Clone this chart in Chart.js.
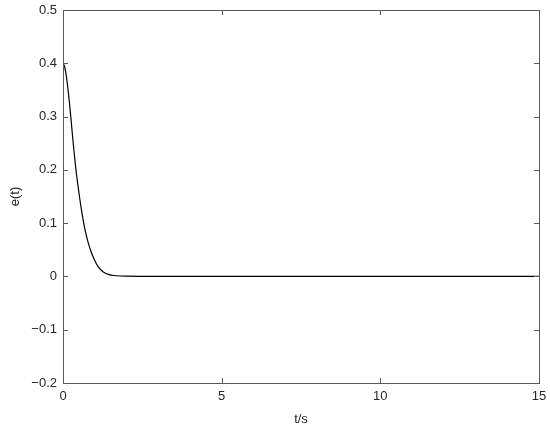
<!DOCTYPE html>
<html>
<head>
<meta charset="utf-8">
<script src="https://cdn.jsdelivr.net/npm/chart.js@4.4.0/dist/chart.umd.min.js"></script>
<style>
  html, body { margin: 0; padding: 0; background: #fff; }
  #wrap { width: 550px; height: 431px; }
</style>
</head>
<body>
<div id="wrap"><canvas id="c" width="550" height="431"></canvas></div>
<script>
// values
var tValues = [0, 0.05, 0.1, 0.15, 0.2, 0.25, 0.3, 0.4, 0.5, 0.6, 0.7, 0.8, 0.9, 1.0, 1.1, 1.2, 1.32, 1.45, 1.6, 1.8, 2.0, 2.5, 3, 4, 6, 10, 15];
var eValues = [0.400, 0.394, 0.378, 0.355, 0.328, 0.297, 0.264, 0.205, 0.158, 0.118, 0.086, 0.062, 0.044, 0.030, 0.019, 0.012, 0.0063, 0.0035, 0.0018, 0.0008, 0.0004, 0.0001, 0, 0, 0, 0, 0];
var xTicks = [0, 5, 10, 15];
var yTicks = [-0.2, -0.1, 0, 0.1, 0.2, 0.3, 0.4, 0.5];

var axisColor = '#5a5a5a';
var font = { family: 'Liberation Sans, Arial, sans-serif', size: 13 };

function fmt(v) {
  if (Math.abs(v) < 1e-9) return '0';
  var s = (Math.round(v * 10) / 10).toString();
  return s.replace('-', '\u2212');
}

// MATLAB style box with inward ticks on all sides
var boxPlugin = {
  id: 'box',
  afterDraw: function (chart) {
    var a = chart.chartArea, ctx = chart.ctx;
    var xs = chart.scales.x, ys = chart.scales.y;
    var len = 5;
    ctx.save();
    ctx.strokeStyle = axisColor;
    ctx.lineWidth = 1;
    ctx.strokeRect(Math.round(a.left) + 0.5, Math.round(a.top) + 0.5,
      Math.round(a.right - a.left), Math.round(a.bottom - a.top));
    ctx.beginPath();
    xTicks.forEach(function (v) {
      var px = Math.round(xs.getPixelForValue(v)) + 0.5;
      ctx.moveTo(px, a.bottom); ctx.lineTo(px, a.bottom - len);
      ctx.moveTo(px, a.top); ctx.lineTo(px, a.top + len);
    });
    yTicks.forEach(function (v) {
      var py = Math.round(ys.getPixelForValue(v)) + 0.5;
      ctx.moveTo(a.left, py); ctx.lineTo(a.left + len, py);
      ctx.moveTo(a.right, py); ctx.lineTo(a.right - len, py);
    });
    ctx.stroke();
    ctx.restore();
  }
};

new Chart(document.getElementById('c'), {
  type: 'line',
  data: {
    datasets: [{
      data: tValues.map(function (t, i) { return { x: t, y: eValues[i] }; }),
      borderColor: '#000',
      borderWidth: 1.2,
      pointRadius: 0,
      fill: false,
      cubicInterpolationMode: 'monotone'
    }]
  },
  options: {
    responsive: false,
    animation: false,
    layout: { padding: { top: 10, right: 11, left: 0, bottom: 0 } },
    plugins: { legend: { display: false }, tooltip: { enabled: false } },
    scales: {
      x: {
        type: 'linear',
        min: 0, max: 15,
        afterBuildTicks: function (s) { s.ticks = xTicks.map(function (v) { return { value: v }; }); },
        afterFit: function (s) { s.height = 48; s.paddingLeft = 0; s.paddingRight = 0; },
        grid: { display: false, drawTicks: false },
        border: { display: false },
        ticks: { color: '#262626', font: font, padding: 6, maxRotation: 0, callback: function (v) { return fmt(v); } },
        title: { display: true, text: 't/s', color: '#262626', font: font, padding: { top: 2, bottom: 4 } }
      },
      y: {
        type: 'linear',
        min: -0.2, max: 0.5,
        afterBuildTicks: function (s) { s.ticks = yTicks.map(function (v) { return { value: v }; }); },
        afterFit: function (s) { s.width = 63; s.paddingTop = 0; s.paddingBottom = 0; },
        grid: { display: false, drawTicks: false },
        border: { display: false },
        ticks: { color: '#262626', font: font, padding: 6, callback: function (v) { return fmt(v); } },
        title: { display: true, text: 'e(t)', color: '#262626', font: font, padding: { top: 8, bottom: 4 } }
      }
    }
  },
  plugins: [boxPlugin]
});
</script>
</body>
</html>
